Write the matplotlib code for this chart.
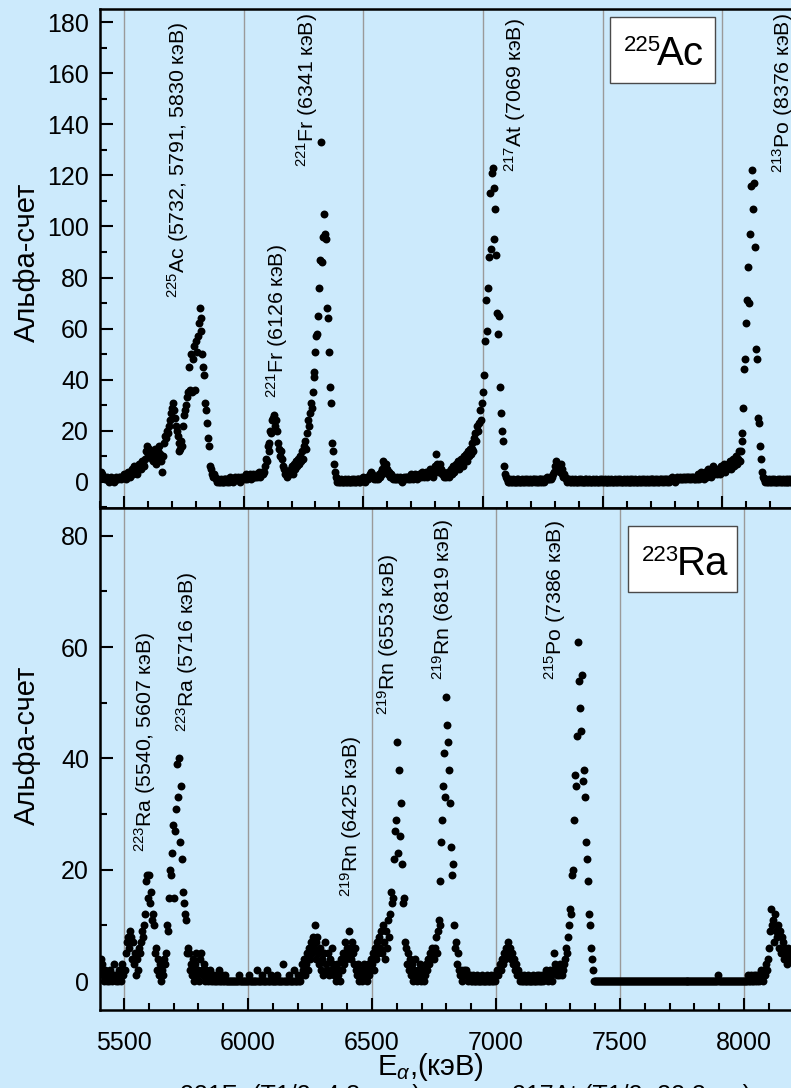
import numpy as np
import matplotlib.pyplot as plt
from matplotlib.patches import Rectangle
from matplotlib.ticker import MultipleLocator

plt.rcParams['font.family'] = ['Liberation Sans', 'DejaVu Sans']
plt.rcParams['mathtext.fontset'] = 'custom'
plt.rcParams['mathtext.rm'] = 'Liberation Sans'
plt.rcParams['mathtext.it'] = 'Liberation Sans:italic'

BG = '#cceafc'
STEP = 4  # keV per channel

# 225Ac source: alpha counts per channel, segments given by start energy (keV)
ac_starts = [5400, 5496, 5612, 5676, 5740, 5876, 6084, 6184, 6244, 6388, 6544,
             6644, 6764, 6844, 6952, 7000, 7100, 7292, 7348, 7884, 7984, 8076, 8172]
ac_counts = [
    [3, 4, 3, 2, 2, 1, 1, 2, 1, 0, 1, 1, 2, 1, 1, 0, 1, 2, 1, 1, 2, 2, 1, 2],
    [2, 3, 2, 1, 3, 4, 3, 2, 4, 5, 3, 4, 6, 5, 4, 3, 5, 7, 6, 5, 8, 7, 6, 9, 12, 14, 11, 13, 10],
    [12, 9, 8, 11, 13, 10, 7, 9, 12, 14, 11, 8, 4, 10, 15, 18],
    [17, 20, 19, 22, 24, 27, 29, 31, 28, 25, 22, 20, 18, 15, 12, 13],
    [16, 14, 22, 26, 28, 30, 33, 35, 45, 36, 50, 35, 48, 53, 36, 55, 51, 57, 62, 68,
     64, 59, 50, 45, 42, 31, 28, 23, 17, 14, 6, 5, 3, 2],
    [3, 2, 1, 0, 1, 0, 0, 1, 0, 0, 1, 0, 1, 1, 0, 1, 0, 2, 1, 1, 0, 1, 2, 1, 1, 2,
     1, 0, 2, 1, 2, 2, 1, 3, 2, 1, 2, 2, 3, 1, 2, 3, 2, 2, 3, 2, 3, 4, 2, 3, 4, 3],
    [4, 6, 9, 8, 14, 12, 15, 20, 19, 24, 25, 26, 22, 24, 20, 15, 13, 10, 12, 9, 6, 5, 3, 4, 2],
    [3, 4, 3, 5, 4, 6, 3, 7, 5, 8, 6, 9, 7, 10, 8],
    [12, 9, 14, 16, 13, 19, 24, 22, 27, 31, 29, 35, 43, 41, 51, 57, 58, 65, 76, 87,
     133, 86, 96, 105, 97, 95, 68, 64, 51, 37, 31, 15, 12, 7, 4, 2],
    [1, 0, 1, 0, 0, 1, 0, 0, 0, 1, 0, 0, 1, 0, 0, 0, 1, 0, 1, 0, 0, 1, 1, 0, 1, 0,
     1, 1, 2, 1, 0, 1, 2, 1, 2, 3, 4, 3, 2],
    [1, 2, 1, 2, 1, 3, 2, 4, 3, 5, 8, 7, 6, 7, 5, 3, 4, 2, 3, 2, 1, 2, 1, 1, 2],
    [1, 1, 2, 1, 0, 1, 2, 1, 1, 2, 2, 1, 2, 1, 3, 2, 1, 2, 3, 2, 1, 2, 3, 3, 2, 4, 3, 2, 3, 4],
    [3, 2, 4, 3, 5, 4, 3, 2, 4, 6, 11, 7, 4, 6, 7, 5, 3, 4, 2, 3],
    [2, 3, 4, 3, 2, 4, 5, 3, 6, 4, 5, 7, 6, 8, 5, 7, 9, 8, 6, 10, 9, 11, 8, 12, 10, 13, 11],
    [13, 15, 12, 17, 19, 16, 22, 20, 23, 28, 24, 31],
    [35, 42, 55, 71, 59, 76, 88, 113, 91, 121, 123, 115, 95, 107, 89, 66, 58, 65,
     37, 27, 20, 16, 6, 3, 2],
    [1, 0, 0, 1, 0, 0, 1, 0, 0, 0, 1, 0, 1, 0, 0, 0, 1, 0, 0, 1, 0, 1, 0, 0, 1, 0,
     0, 1, 1, 0, 1, 0, 0, 1, 0, 1, 1, 0, 1, 0, 1, 1, 2, 1, 1, 2, 1, 2],
    [3, 4, 6, 8, 7, 5, 6, 4, 7, 3, 5, 2, 3, 2],
    [1, 0, 1, 1, 0, 0, 1, 0, 0, 1, 0, 0, 0, 1, 0, 1, 0, 0, 0, 1,
     0, 1, 0, 0, 1, 0, 0, 0, 1, 0, 0, 1, 0, 0, 0, 1, 0, 1, 0, 0,
     1, 0, 0, 0, 1, 0, 0, 1, 0, 0, 0, 1, 0, 0, 1, 0, 1, 0, 0, 0,
     1, 0, 0, 1, 0, 0, 0, 1, 0, 1, 0, 0, 1, 0, 0, 0, 1, 0, 0, 1,
     0, 1, 0, 0, 1, 0, 0, 1, 0, 1, 1, 0, 0, 1, 0, 1, 0, 0, 1, 1,
     0, 1, 0, 1, 1, 0, 1, 0, 1, 1, 2, 1, 1, 0, 1, 1, 2, 1, 1, 2,
     1, 1, 2, 1, 2, 1, 2, 2, 1, 2, 1, 2, 2, 1],
    [1, 2, 1, 2, 3, 1, 2, 4, 2, 3, 1, 4, 3, 2, 5, 3, 4, 2, 5, 6, 3, 4, 5, 3, 4],
    [4, 5, 3, 6, 4, 5, 7, 4, 6, 5, 7, 6, 8, 5, 7, 9, 6, 8, 10, 7, 9, 12, 8],
    [12, 16, 19, 29, 44, 48, 62, 71, 84, 70, 97, 116, 122, 107, 117, 92, 52, 48, 25, 23, 14, 9, 4, 2],
    [1, 0, 1, 1, 0, 0, 1, 0, 0, 1, 0, 1, 0, 0, 0, 1, 0, 1, 0, 0, 1, 0, 0, 1, 0, 0, 1, 0, 1, 0, 0, 1],
]

# 223Ra source
ra_starts = [5404, 5504, 5648, 5772, 5912, 6212, 6516, 6656, 6748, 6868, 7008,
             7104, 7276, 7396, 8056]
ra_counts = [
    [2, 4, 3, 1, 0, 2, 1, 0, 1, 0, 2, 1, 0, 1, 3, 1, 0, 1, 0, 2, 1, 0, 3, 1, 2],
    [2, 5, 7, 8, 6, 9, 8, 4, 7, 3, 5, 1, 4, 2, 6, 5, 7, 9, 8, 10, 12, 18, 19, 15, 19,
     14, 16, 11, 12, 10, 5, 6, 2, 4, 1, 3],
    [0, 2, 1, 4, 3, 5, 10, 9, 15, 20, 19, 23, 28, 15, 27, 31, 39, 33, 40, 25, 35, 22,
     16, 14, 12, 11, 5, 6, 5, 2, 3],
    [1, 4, 2, 0, 3, 5, 1, 2, 0, 4, 5, 2, 1, 3, 0, 2, 1, 0, 1, 2, 0, 1, 0, 1, 0, 0, 1,
     0, 2, 0, 0, 1, 0, 0, 1],
    [0, 0, 0, 0, 0, 0, 0, 0, 0, 0, 0, 0, 0, 1, 0, 0, 0, 0, 0, 0, 0, 0, 0, 1, 0,
     0, 0, 0, 0, 0, 0, 2, 0, 0, 0, 0, 1, 0, 0, 0, 0, 2, 0, 0, 0, 1, 0, 0, 0, 0,
     0, 1, 0, 0, 0, 0, 0, 3, 0, 0, 0, 0, 0, 1, 0, 0, 0, 0, 2, 0, 0, 0, 1, 0, 0],
    [1, 3, 2, 4, 1, 3, 5, 2, 6, 4, 7, 5, 8, 6, 10, 7, 4, 8, 5, 3, 6, 2, 4, 1, 5, 7,
     3, 2, 5, 1, 4, 2, 6, 3, 1, 2, 0, 3, 1, 2, 0, 4, 2, 5, 3, 7, 4, 6, 5, 9, 6, 4,
     7, 5, 3, 6, 2, 1, 3, 0, 2, 1, 0, 2, 3, 1, 2, 0, 3, 1, 2, 4, 3, 5, 2, 6],
    [4, 7, 5, 8, 6, 9, 5, 10, 7, 4, 9, 6, 11, 8, 12, 16, 14, 15, 22, 27, 29, 43, 23,
     38, 26, 32, 21, 14, 15, 7, 6, 3, 5, 2, 4],
    [1, 3, 0, 2, 4, 1, 0, 2, 1, 3, 0, 1, 2, 0, 1, 3, 2, 4, 3, 5, 4, 6, 5],
    [4, 6, 8, 5, 9, 11, 10, 18, 25, 29, 35, 41, 33, 51, 46, 43, 38, 32, 24, 19, 21,
     10, 6, 7, 3, 5, 2, 1, 2, 0],
    [1, 2, 1, 2, 1, 0, 1, 1, 0, 0, 1, 0, 0, 0, 1, 0, 0, 0, 0, 1, 0, 0, 0, 0, 1, 0,
     0, 0, 1, 0, 0, 1, 0, 1, 2],
    [1, 2, 3, 2, 4, 3, 5, 4, 6, 5, 7, 5, 6, 4, 5, 3, 4, 2, 3, 1, 2, 1, 0, 1],
    [0, 0, 1, 0, 0, 0, 1, 0, 0, 0, 0, 1, 0, 0, 0, 1, 0, 1, 0, 0, 1, 0, 1, 1, 2, 1,
     0, 1, 2, 1, 0, 2, 5, 3, 2, 1, 2, 1, 3, 2, 1, 2, 3],
    [3, 4, 6, 5, 8, 10, 13, 12, 19, 20, 29, 37, 35, 44, 61, 54, 49, 45, 55, 36, 38,
     33, 25, 22, 18, 12, 10, 6, 4, 2],
    [0, 0, 0, 0, 0, 0, 0, 0, 0, 0, 0, 0, 0, 0, 0, 0, 0, 0, 0, 0, 0, 0, 0, 0, 0,
     0, 0, 0, 0, 0, 0, 0, 0, 0, 0, 0, 0, 0, 0, 0, 0, 0, 0, 0, 0, 0, 0, 0, 0, 0,
     0, 0, 0, 0, 0, 0, 0, 0, 0, 0, 0, 0, 0, 0, 0, 0, 0, 0, 0, 0, 0, 0, 0, 0, 0,
     0, 0, 0, 0, 0, 0, 0, 0, 0, 0, 0, 0, 0, 0, 0, 0, 0, 0, 0, 0, 0, 0, 0, 0, 0,
     0, 0, 0, 0, 0, 0, 0, 0, 0, 0, 0, 0, 0, 0, 0, 0, 0, 0, 0, 0, 0, 0, 0, 0, 0,
     1, 0, 0, 0, 0, 0, 0, 0, 0, 0, 0, 0, 0, 0, 0, 0, 0, 0, 0, 0, 0, 0, 0, 0, 0,
     0, 0, 0, 0, 0, 1, 0, 0, 1, 0, 0, 1, 0, 1, 0],
    [1, 0, 1, 2, 1, 0, 2, 1, 3, 2, 4, 6, 9, 13, 10, 11, 7, 12, 9, 8, 10, 6, 9, 5, 8,
     7, 4, 6, 5, 3, 6, 4, 5],
]

# peak labels: (text, energy, count at lower end of the label)
ac_labels = [
    (r'$^{225}$Ac (5732, 5791, 5830 кэВ)', 5726, 72.0),
    (r'$^{221}$Fr (6126 кэВ)', 6141, 32.8),
    (r'$^{221}$Fr (6341 кэВ)', 6263, 123.4),
    (r'$^{217}$At (7069 кэВ)', 7134, 121.5),
    (r'$^{213}$Po (8376 кэВ)', 8252, 121.1),
]
ra_labels = [
    (r'$^{223}$Ra (5540, 5607 кэВ)', 5585, 23.2),
    (r'$^{223}$Ra (5716 кэВ)', 5756, 44.8),
    (r'$^{219}$Rn (6425 кэВ)', 6417, 15.1),
    (r'$^{219}$Rn (6553 кэВ)', 6566, 47.8),
    (r'$^{219}$Rn (6819 кэВ)', 6788, 54.1),
    (r'$^{215}$Po (7386 кэВ)', 7238, 54.1),
]


def spectrum(starts, counts):
    xs, ys = [], []
    for e0, seg in zip(starts, counts):
        xs.append(e0 + STEP * np.arange(len(seg)))
        ys.append(np.array(seg))
    return np.concatenate(xs), np.concatenate(ys)


W, H = 791, 1088
fig = plt.figure(figsize=(W / 100, H / 100), dpi=100)
fig.patch.set_facecolor(BG)

ax1 = fig.add_axes([100 / W, 1 - 508 / H, 710 / W, 499 / H])
ax2 = fig.add_axes([100 / W, 1 - 1010 / H, 710 / W, 502 / H])


def style(ax, ymaj, show_xlabels):
    ax.set_facecolor(BG)
    ax.set_axisbelow(True)
    ax.xaxis.set_major_locator(MultipleLocator(500))
    ax.xaxis.set_minor_locator(MultipleLocator(100))
    ax.yaxis.set_major_locator(MultipleLocator(ymaj))
    ax.yaxis.set_minor_locator(MultipleLocator(ymaj / 2))
    ax.grid(axis='x', which='major', color='#9a9a9a', lw=1.0)
    for s in ax.spines.values():
        s.set_linewidth(1.8)
    ax.tick_params(which='both', direction='in', top=False, right=False,
                   width=1.5, labelsize=18)
    ax.tick_params(which='major', length=9)
    ax.tick_params(which='minor', length=5)
    ax.tick_params(axis='y', pad=8)
    ax.tick_params(axis='x', pad=15, labelbottom=show_xlabels)


def boxed_label(x0, y0, x1, y1, sup, sym, sup_x, sym_x, base_y):
    # white box with a nuclide name, positions in figure pixels
    fig.add_artist(Rectangle((x0 / W, 1 - y1 / H), (x1 - x0) / W, (y1 - y0) / H,
                             transform=fig.transFigure, fc='white', ec='#4a4a4a', lw=1.0))
    fig.text(sup_x / W, 1 - (base_y - 14) / H, sup, fontsize=16, ha='left', va='baseline')
    fig.text(sym_x / W, 1 - base_y / H, sym, fontsize=29, ha='left', va='baseline')


x1, y1 = spectrum(ac_starts, ac_counts)
ax1.plot(x1, y1, 'o', ms=5.7, color='black', mew=0)
ax1.set_xlim(5400, 8366)
ax1.set_ylim(-10.3, 185.2)
style(ax1, 20, False)
for txt, e, c in ac_labels:
    ax1.text(e, c, txt, rotation=90, ha='center', va='bottom', fontsize=15.3)

x2, y2 = spectrum(ra_starts, ra_counts)
ax2.plot(x2, y2, 'o', ms=5.7, color='black', mew=0)
ax2.set_xlim(5403, 8266)
ax2.set_ylim(-5.2, 85.0)
style(ax2, 20, True)
for txt, e, c in ra_labels:
    ax2.text(e, c, txt, rotation=90, ha='center', va='bottom', fontsize=15.3)

boxed_label(610, 17, 715, 83, '225', 'Ac', 624, 657, 65)
boxed_label(628, 526, 737, 592, '223', 'Ra', 642, 677, 575)

fig.text(27 / W, 1 - 262 / H, 'Альфа-счет', rotation=90, ha='center', va='center', fontsize=21)
fig.text(27 / W, 1 - 745 / H, 'Альфа-счет', rotation=90, ha='center', va='center', fontsize=21)
fig.text(430 / W, 1 - 1067 / H, r'E$_{\alpha}$,(кэВ)', ha='center', va='center', fontsize=21)

# caption below the figure, only the top of it shows
fig.text(180 / W, 1 - 1103 / H, '221Fr (T1/2=4.8 мин),', fontsize=18, ha='left', va='baseline')
fig.text(512 / W, 1 - 1103 / H, '217At (T1/2=32.3 мс),', fontsize=18, ha='left', va='baseline')

fig.savefig('out.png', dpi=100, facecolor=BG)
